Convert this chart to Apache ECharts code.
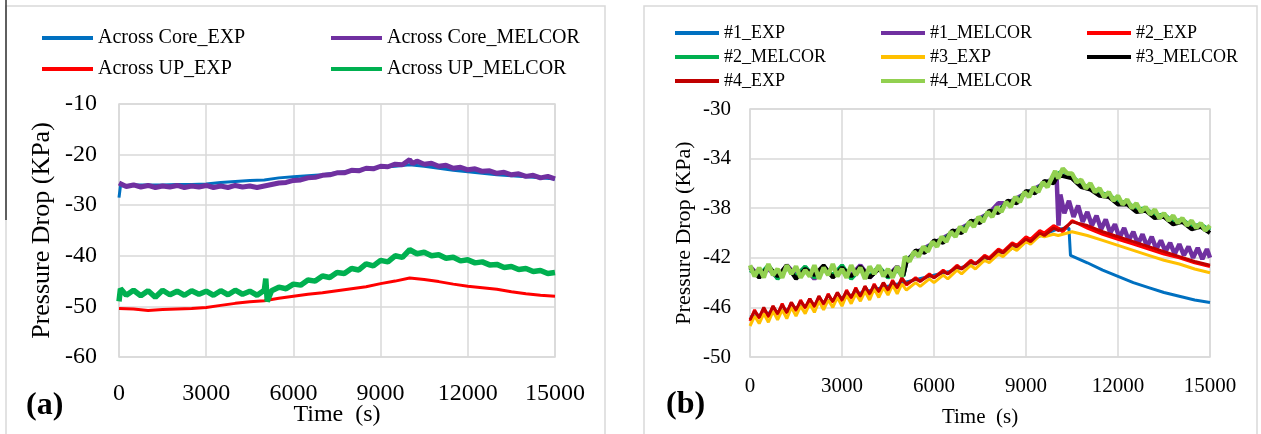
<!DOCTYPE html>
<html>
<head>
<meta charset="utf-8">
<script src="https://cdn.jsdelivr.net/npm/echarts@6/dist/echarts.min.js"></script>
<style>
  html, body { margin: 0; padding: 0; background: #fff; }
  #main { width: 1261px; height: 434px; }
</style>
</head>
<body>
<div id="main"></div>
<script>
// ---------- panel (a) data ----------
const tCoreExpA = [0,50,500,1000,1500,2000,2500,3000,3500,4000,4500,5000,5500,6000,6500,7000,7500,8000,8500,9000,9500,10000,10500,11000,11500,12000,12500,13000,13500,14000,14500,15000];
const coreExpA = [-28.5,-26.2,-26.0,-26.0,-26.0,-25.9,-25.9,-25.8,-25.5,-25.3,-25.1,-25.0,-24.6,-24.4,-24.2,-24.0,-23.6,-23.2,-22.8,-22.5,-22.3,-22.0,-22.3,-22.7,-23.1,-23.4,-23.7,-24.0,-24.2,-24.4,-24.6,-24.8];

const tCoreMelA = [0,250,500,750,1000,1250,1500,1750,2000,2250,2500,2750,3000,3250,3500,3750,4000,4250,4500,4750,5000,5250,5500,5750,6000,6250,6500,6750,7000,7250,7500,7750,8000,8250,8500,8750,9000,9250,9500,9750,10000,10100,10250,10500,10750,11000,11250,11500,11750,12000,12250,12500,12750,13000,13250,13500,13750,14000,14250,14500,14750,15000];
const coreMelA = [-25.6,-26.3,-26.0,-26.4,-26.1,-26.5,-26.2,-26.4,-26.1,-26.5,-26.2,-26.4,-26.1,-26.5,-26.2,-26.5,-26.1,-26.4,-26.2,-26.5,-26.2,-25.9,-25.6,-25.5,-25.1,-25.0,-24.6,-24.5,-24.1,-24.0,-23.6,-23.6,-23.1,-23.2,-22.7,-22.8,-22.3,-22.4,-21.9,-22.0,-21.0,
  -21.8,-21.3,
  -21.9,-21.7,-22.3,-22.1,-22.7,-22.5,-23.0,-22.8,-23.3,-23.2,-23.7,-23.5,-24.0,-23.8,-24.3,-24.1,-24.6,-24.3,-24.8];

const tUpExpA = [0,500,1000,1500,2000,2500,3000,3500,4000,4500,5000,5500,6000,6500,7000,7500,8000,8500,9000,9500,10000,10500,11000,11500,12000,12500,13000,13500,14000,14500,15000];
const upExpA = [-50.4,-50.5,-50.8,-50.6,-50.5,-50.4,-50.2,-49.8,-49.4,-49.1,-48.9,-48.4,-48.0,-47.6,-47.3,-46.9,-46.5,-46.1,-45.5,-45.0,-44.4,-44.7,-45.1,-45.6,-46.0,-46.3,-46.6,-47.1,-47.5,-47.8,-48.0];

const tUpMelA = [0,50,250,500,750,1000,1250,1500,1750,2000,2250,2500,2750,3000,3250,3500,3750,4000,4250,4500,4750,5000,5050,5100,5250,5500,5750,6000,6250,6500,6750,7000,7250,7500,7750,8000,8250,8500,8750,9000,9250,9500,9750,10000,10250,10500,10750,11000,11250,11500,11750,12000,12250,12500,12750,13000,13250,13500,13750,14000,14250,14500,14750,15000];
const upMelA = [-49.0,-46.5,
  -47.8,-46.8,-47.9,-46.9,-48.2,-46.8,-47.7,-47.0,-47.8,-46.9,-47.6,-47.0,-47.8,-46.9,-47.7,-46.8,-47.6,-47.0,-47.8,-46.8,
  -44.5,-49.0,
  -46.9,-46.2,-46.5,-45.6,-45.8,-44.8,-45.0,-44.0,-44.3,-43.3,-43.5,-42.5,-42.8,-41.6,-42.0,-40.9,-41.2,-40.0,-40.3,-38.8,
  -39.6,-39.3,-40.0,-39.8,-40.5,-40.3,-41.0,-40.8,-41.4,-41.2,-41.8,-41.7,-42.3,-42.1,-42.7,-42.5,-43.1,-42.9,-43.5,-43.3];

// ---------- panel (b) data ----------
const tExpB = [0,150,300,450,600,750,900,1050,1200,1350,1500,1650,1800,1950,2100,2250,2400,2550,2700,2850,3000,3150,3300,3450,3600,3750,3900,4050,4200,4350,4500,4650,4800,4950,
  5100,5400,5550,5850,6000,6300,6450,6750,6900,7200,7350,7650,7800,8100,8250,8550,8700,9000,9150,9450,9600,9900,10050,10200,10500,
  11000,11500,12000,12500,13000,13500,14000,14500,15000];
const exp2B = [-47.1,-46.2,-46.9,-46.1,-46.8,-45.9,-46.6,-45.7,-46.5,-45.6,-46.3,-45.4,-46.1,-45.3,-46.0,-45.1,-45.8,-44.9,-45.6,-44.8,-45.5,-44.6,-45.3,-44.4,-45.2,-44.3,-45.0,-44.1,-44.8,-44.0,-44.7,-43.8,-44.5,-43.6,
  -44.2,-43.6,-43.9,-43.3,-43.6,-43.0,-43.3,-42.6,-42.9,-42.2,-42.5,-41.8,-42.0,-41.3,-41.5,-40.8,-41.0,-40.3,-40.5,-39.8,-40.0,-39.4,-39.6,-39.9,-39.0,
  -39.6,-40.1,-40.5,-40.9,-41.3,-41.7,-42.0,-42.4,-42.7];
const exp4B = [-47.0,-46.3,-46.8,-46.0,-46.7,-45.9,-46.5,-45.8,-46.4,-45.6,-46.2,-45.5,-46.0,-45.3,-45.9,-45.1,-45.7,-45.0,-45.5,-44.8,-45.4,-44.7,-45.2,-44.5,-45.1,-44.3,-44.9,-44.2,-44.7,-44.0,-44.6,-43.9,-44.4,-43.7,
  -44.1,-43.7,-43.9,-43.4,-43.6,-43.1,-43.3,-42.7,-42.9,-42.3,-42.5,-41.9,-42.1,-41.4,-41.6,-40.9,-41.1,-40.5,-40.7,-40.0,-40.2,-39.6,-39.8,-39.7,-39.1,
  -39.4,-39.9,-40.3,-40.7,-41.1,-41.5,-41.9,-42.3,-42.6];
const exp3B = [-47.5,-46.7,-47.3,-46.5,-47.2,-46.3,-47.0,-46.2,-46.9,-46.0,-46.7,-45.9,-46.5,-45.7,-46.4,-45.5,-46.2,-45.4,-46.0,-45.2,-45.9,-45.0,-45.7,-44.9,-45.5,-44.7,-45.4,-44.5,-45.2,-44.4,-45.0,-44.2,-44.9,-44.1,
  -44.6,-44.0,-44.3,-43.7,-44.0,-43.4,-43.7,-43.0,-43.3,-42.6,-42.9,-42.2,-42.4,-41.7,-41.9,-41.2,-41.4,-40.7,-40.9,-40.2,-40.3,-40.1,-40.2,-40.1,-39.9,
  -40.2,-40.6,-41.0,-41.4,-41.8,-42.2,-42.5,-42.9,-43.2];

const tExp1B = [0,500,1000,1500,2000,2500,3000,3500,4000,4500,5000,5500,6000,6500,7000,7500,8000,8500,9000,9500,10000,10400,10450,11000,11500,12000,12500,13000,13500,14000,14500,15000];
const exp1B = [-46.8,-46.5,-46.3,-46.0,-45.8,-45.5,-45.2,-44.9,-44.6,-44.3,-44.0,-43.7,-43.4,-43.1,-42.7,-42.3,-41.8,-41.3,-40.7,-40.2,-39.7,-39.6,-41.8,-42.4,-43.0,-43.5,-44.0,-44.4,-44.8,-45.1,-45.4,-45.6];

const tMelB = [0,150,300,450,600,750,900,1050,1200,1350,1500,1650,1800,1950,2100,2250,2400,2550,2700,2850,3000,3150,3300,3450,3600,3750,3900,4050,4200,4350,4500,4650,4800,4950,
  5050,5200,5350,5500,5650,5800,5950,6100,6250,6400,6550,6700,6850,7000,7150,7300,7450,7600,7750,7900,8050,8200,8350,8500,8650,8800,8950,9100,9250,9400,9550,9700,9850,
  9950,10050,10200,10350,
  10500,10650,10800,10950,11100,11250,11400,11550,11700,11850,12000,12150,12300,12450,12600,12750,12900,13050,13200,13350,13500,13650,13800,13950,14100,14250,14400,14550,14700,14850,15000];
const mel4B = [-42.6,-43.5,-42.8,-43.6,-42.5,-43.4,-42.9,-43.6,-42.6,-43.3,-42.7,-43.6,-43.0,-43.5,-42.6,-43.7,-42.8,-43.4,-42.5,-43.5,-42.9,-43.6,-42.6,-43.4,-42.8,-43.7,-42.7,-43.3,-42.6,-43.5,-42.9,-43.6,-42.7,-43.5,
  -41.9,-42.3,-41.5,-41.9,-41.1,-41.5,-40.7,-41.1,-40.3,-40.7,-39.9,-40.3,-39.5,-39.9,-39.1,-39.5,-38.7,-39.1,-38.3,-38.7,-37.9,-38.3,-37.5,-37.9,-37.1,-37.5,-36.7,-37.1,-36.3,-36.7,-35.9,-36.3,-35.5,
  -35.0,-35.6,-34.8,-35.2,
  -35.2,-35.9,-35.7,-36.4,-36.0,-36.7,-36.4,-37.1,-36.7,-37.4,-37.0,-37.7,-37.3,-38.0,-37.6,-38.3,-37.9,-38.5,-38.1,-38.8,-38.4,-39.0,-38.6,-39.2,-38.8,-39.4,-39.0,-39.6,-39.2,-39.8,-39.4];

const tMelB2 = [0,300,600,900,1200,1500,1800,2100,2400,2700,3000,3300,3600,3900,4200,4500,4800,5000,5100,
  5400,5700,6000,6300,6600,6900,7200,7500,7800,8100,8400,8700,9000,9300,9600,9900,10050,10200,
  10500,10800,11100,11400,11700,12000,12300,12600,12900,13200,13500,13800,14100,14400,14700,15000];
const mel2B = [-43.0,-43.4,-42.6,-43.7,-42.8,-43.5,-42.7,-43.6,-42.8,-43.4,-42.6,-43.7,-42.9,-43.5,-42.7,-43.6,-43.0,-43.5,-42.3,
  -41.5,-41.4,-40.7,-40.6,-39.9,-39.8,-39.1,-39.0,-38.3,-38.2,-37.5,-37.4,-36.7,-36.6,-35.9,-35.8,-35.2,-35.0,
  -35.4,-36.1,-36.3,-36.8,-36.9,-37.5,-37.5,-38.1,-38.0,-38.6,-38.5,-39.1,-38.9,-39.5,-39.3,-39.8];
const mel3B = [-42.8,-43.6,-42.7,-43.5,-42.6,-43.7,-42.9,-43.4,-42.6,-43.6,-42.8,-43.5,-42.7,-43.6,-42.9,-43.5,-42.8,-43.4,-42.4,
  -41.4,-41.6,-40.6,-40.8,-39.8,-40.0,-39.0,-39.2,-38.2,-38.4,-37.4,-37.6,-36.6,-36.8,-35.8,-36.0,-35.3,-35.4,
  -35.6,-36.3,-36.5,-37.0,-37.1,-37.7,-37.7,-38.3,-38.2,-38.8,-38.7,-39.3,-39.1,-39.7,-39.5,-40.0];

const tMel1B = [0,300,600,900,1200,1500,1800,2100,2400,2700,3000,3300,3600,3900,4200,4500,4800,5000,5100,
  5400,5700,6000,6300,6600,6900,7200,7500,7800,8100,8400,8700,9000,9300,9600,9900,
  10000,10060,10120,10250,10400,10550,10700,10850,11000,11150,11300,11450,11600,11750,11900,12050,12200,12350,12500,12650,12800,12950,13100,13250,13400,13550,13700,13850,14000,14150,14300,14450,14600,14750,14900,15000];
const mel1B = [-42.7,-43.5,-42.9,-43.6,-42.6,-43.4,-42.8,-43.7,-42.7,-43.5,-42.9,-43.4,-42.6,-43.6,-42.8,-43.5,-42.7,-43.4,-42.2,
  -41.6,-41.2,-40.8,-40.4,-40.0,-39.6,-39.2,-38.8,-38.4,-37.6,-37.6,-37.2,-36.8,-36.4,-36.0,-35.6,
  -35.6,-39.4,-36.9,-38.4,-37.4,-38.7,-37.8,-39.1,-38.3,-39.4,-38.6,-39.7,-38.9,-40.0,-39.3,-40.4,-39.6,-40.6,-39.9,-40.9,-40.1,-41.1,-40.3,-41.3,-40.6,-41.5,-40.8,-41.7,-40.9,-41.8,-41.1,-42.0,-41.2,-42.1,-41.3,-42.0];

// ---------- axes ----------
const xTicks = [0, 3000, 6000, 9000, 12000, 15000];
const yTicksA = [-60, -50, -40, -30, -20, -10];
const yTicksB = [-50, -46, -42, -38, -34, -30];

const FONT = 'Liberation Serif';
const GRID_C = '#d9d9d9';

function zip(t, v) { return t.map((x, i) => [x, v[i]]); }

function line(name, idx, t, v, color, width) {
  return {
    name: name, type: 'line', xAxisIndex: idx, yAxisIndex: idx,
    data: zip(t, v), showSymbol: false, symbol: 'none',
    lineStyle: { color: color, width: width, join: 'bevel' }, itemStyle: { color: color },
    animation: false
  };
}

function xAx(idx, fs, margin, gap) {
  return {
    gridIndex: idx, type: 'value', min: xTicks[0], max: xTicks[xTicks.length - 1], interval: 3000,
    name: 'Time  (s)', nameLocation: 'middle', nameGap: gap, nameMoveOverlap: false,
    nameTextStyle: { fontFamily: FONT, fontSize: fs, color: '#000' },
    axisLine: { show: false }, axisTick: { show: false },
    axisLabel: { fontFamily: FONT, fontSize: fs, color: '#000', margin: margin, formatter: v => String(v) },
    splitLine: { lineStyle: { color: GRID_C, width: 1.5 } }
  };
}

function legendCol(left, top, names, fs, w, gap) {
  return {
    left: left, top: top, orient: 'vertical', padding: 0, itemGap: gap,
    itemWidth: w, itemHeight: 4, icon: 'rect', data: names, selectedMode: false,
    textStyle: { fontFamily: FONT, fontSize: fs, color: '#000', lineHeight: fs }
  };
}

const chart = echarts.init(document.getElementById('main'));
chart.setOption({
  backgroundColor: '#fff',
  animation: false,
  grid: [
    { left: 119, top: 104, width: 436, height: 253, show: true, borderColor: GRID_C, borderWidth: 1.5, containLabel: false, outerBoundsMode: 'none' },
    { left: 750, top: 109, width: 460, height: 248, show: true, borderColor: GRID_C, borderWidth: 1.5, containLabel: false, outerBoundsMode: 'none' }
  ],
  legend: [
    legendCol(42, 28, ['Across Core_EXP', 'Across UP_EXP'], 20, 51, 11),
    legendCol(331, 28, ['Across Core_MELCOR', 'Across UP_MELCOR'], 20, 51, 11),
    legendCol(675, 24, ['#1_EXP', '#2_MELCOR', '#4_EXP'], 18, 44, 6),
    legendCol(881, 24, ['#1_MELCOR', '#3_EXP', '#4_MELCOR'], 18, 44, 6),
    legendCol(1087, 24, ['#2_EXP', '#3_MELCOR'], 18, 44, 6)
  ],
  xAxis: [xAx(0, 24, 25, 46), xAx(1, 21, 19, 50)],
  yAxis: [
    {
      gridIndex: 0, type: 'value', min: yTicksA[0], max: yTicksA[yTicksA.length - 1], interval: 10,
      name: 'Pressure Drop (KPa)', nameLocation: 'middle', nameGap: 64, nameMoveOverlap: false,
      nameTextStyle: { fontFamily: FONT, fontSize: 26, color: '#000' },
      axisLine: { show: false }, axisTick: { show: false },
      axisLabel: { fontFamily: FONT, fontSize: 24, color: '#000', margin: 22 },
      splitLine: { lineStyle: { color: GRID_C, width: 1.5 } }
    },
    {
      gridIndex: 1, type: 'value', min: yTicksB[0], max: yTicksB[yTicksB.length - 1],
      name: 'Pressure Drop (KPa)', nameLocation: 'middle', nameGap: 55, nameMoveOverlap: false,
      nameTextStyle: { fontFamily: FONT, fontSize: 22, color: '#000' },
      axisLine: { show: false }, axisTick: { show: false, customValues: yTicksB },
      axisLabel: { fontFamily: FONT, fontSize: 21, color: '#000', margin: 19, customValues: yTicksB },
      splitLine: { lineStyle: { color: GRID_C, width: 1.5 } }
    }
  ],
  graphic: [
    { type: 'rect', shape: { x: 6, y: 6, width: 599, height: 440 }, style: { fill: 'none', stroke: GRID_C, lineWidth: 1.5 }, silent: true },
    { type: 'line', shape: { x1: 6, y1: 0, x2: 6, y2: 220 }, style: { stroke: '#333', lineWidth: 1.5 }, silent: true },
    { type: 'rect', shape: { x: 644, y: 6, width: 613, height: 440 }, style: { fill: 'none', stroke: GRID_C, lineWidth: 1.5 }, silent: true },
    { type: 'text', left: 26, top: 390, style: { text: '(a)', font: 'bold 32px "Liberation Serif"', fill: '#000' }, silent: true },
    { type: 'text', left: 666, top: 389, style: { text: '(b)', font: 'bold 32px "Liberation Serif"', fill: '#000' }, silent: true }
  ],
  series: [
    line('Across Core_EXP', 0, tCoreExpA, coreExpA, '#0070C0', 3),
    line('Across Core_MELCOR', 0, tCoreMelA, coreMelA, '#7030A0', 5),
    line('Across UP_EXP', 0, tUpExpA, upExpA, '#FF0000', 3),
    line('Across UP_MELCOR', 0, tUpMelA, upMelA, '#00B050', 5.5),
    line('#1_EXP', 1, tExp1B, exp1B, '#0070C0', 3),
    line('#1_MELCOR', 1, tMel1B, mel1B, '#7030A0', 4.5),
    line('#2_EXP', 1, tExpB, exp2B, '#FF0000', 3),
    line('#2_MELCOR', 1, tMelB2, mel2B, '#00B050', 4),
    line('#3_EXP', 1, tExpB, exp3B, '#FFC000', 3),
    line('#3_MELCOR', 1, tMelB2, mel3B, '#000000', 4),
    line('#4_EXP', 1, tExpB, exp4B, '#C00000', 3),
    line('#4_MELCOR', 1, tMelB, mel4B, '#92D050', 4.5)
  ]
});
</script>
</body>
</html>
